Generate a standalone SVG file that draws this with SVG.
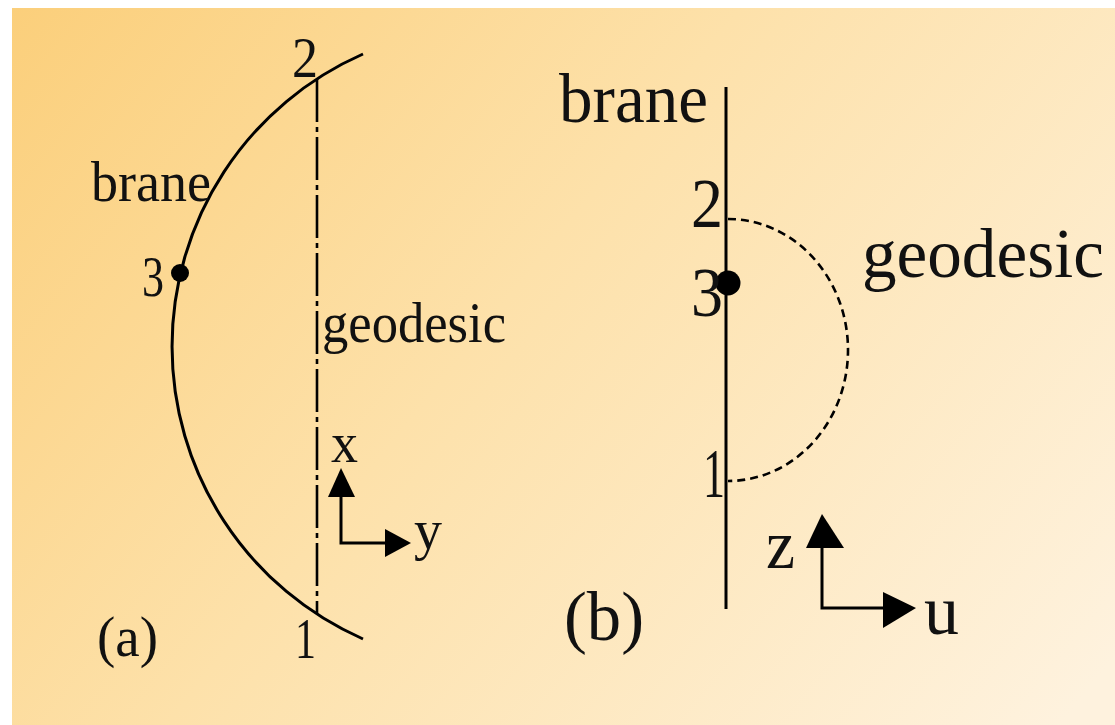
<svg xmlns="http://www.w3.org/2000/svg" width="1115" height="725" viewBox="0 0 1115 725">
  <defs>
    <linearGradient id="bg" gradientUnits="userSpaceOnUse" x1="12" y1="8" x2="1000" y2="800">
      <stop offset="0" stop-color="#FBCF7B"/>
      <stop offset="0.45" stop-color="#FDE1AA"/>
      <stop offset="1" stop-color="#FEF2DE"/>
    </linearGradient>
    <style>
      .ta { font-family: "Liberation Serif", "Times New Roman", serif; font-size: 56px; fill: #111; }
      .tb { font-family: "Liberation Serif", "Times New Roman", serif; font-size: 70px; fill: #111; }
      .line { fill: none; stroke: #000; stroke-width: 3; }
      .dashdot { fill: none; stroke: #000; stroke-width: 2.6; stroke-dasharray: 43 5 5 5; }
      .dashed { fill: none; stroke: #000; stroke-width: 2.6; stroke-dasharray: 8 5; }
      .head { fill: #000; }
    </style>
  </defs>
  <rect x="0" y="0" width="1115" height="725" fill="#FFFFFF"/>
  <rect x="12" y="8" width="1103" height="717" fill="url(#bg)"/>

  <g id="connectors">
    <!-- panel (a) brane arc -->
    <path id="brane-a" class="line" d="M 363 54 A 319.5 319.5 0 0 0 363 639"/>
    <!-- panel (a) geodesic (dash-dot) -->
    <line id="geodesic-a" class="dashdot" x1="317" y1="79" x2="317" y2="613"/>
    <!-- panel (a) axes -->
    <polyline class="line" points="341,495 341,543 388,543"/>
    <polygon class="head" points="341,468 355,497 328,497"/>
    <polygon class="head" points="411,543 385,529 385,557"/>
    <!-- panel (b) brane line -->
    <line id="brane-b" class="line" x1="726" y1="87" x2="726" y2="609"/>
    <!-- panel (b) geodesic (dashed semicircle) -->
    <path id="geodesic-b" class="dashed" d="M 728 219 A 120 131 0 0 1 728 481"/>
    <!-- panel (b) axes -->
    <polyline class="line" points="822,546 822,608 885,608"/>
    <polygon class="head" points="822,514 844,548 806,548"/>
    <polygon class="head" points="916,608 883,592 883,628"/>
  </g>

  <g id="point-3a">
    <circle cx="180" cy="273" r="9" fill="#000"/>
  </g>
  <g id="point-3b">
    <circle cx="728" cy="283" r="12.5" fill="#000"/>
  </g>

  <g id="labels-a">
    <text class="ta" x="292" y="77" textLength="26" lengthAdjust="spacingAndGlyphs">2</text>
    <text class="ta" x="91" y="201" textLength="120" lengthAdjust="spacingAndGlyphs">brane</text>
    <text class="ta" x="142" y="296" textLength="22" lengthAdjust="spacingAndGlyphs">3</text>
    <text class="ta" x="322" y="342" textLength="184" lengthAdjust="spacingAndGlyphs">geodesic</text>
    <text class="ta" x="331" y="462" textLength="27" lengthAdjust="spacingAndGlyphs">x</text>
    <text class="ta" x="414" y="549" textLength="28" lengthAdjust="spacingAndGlyphs">y</text>
    <text class="ta" x="295" y="658" textLength="21" lengthAdjust="spacingAndGlyphs">1</text>
    <text class="ta" x="97" y="656" textLength="61" lengthAdjust="spacingAndGlyphs">(a)</text>
  </g>

  <g id="labels-b">
    <text class="tb" x="559" y="122" textLength="149" lengthAdjust="spacingAndGlyphs">brane</text>
    <text class="tb" x="691" y="227" textLength="32" lengthAdjust="spacingAndGlyphs">2</text>
    <text class="tb" x="691" y="316" textLength="32" lengthAdjust="spacingAndGlyphs">3</text>
    <text class="tb" x="862" y="277" textLength="242" lengthAdjust="spacingAndGlyphs">geodesic</text>
    <text class="tb" x="703" y="497" textLength="22" lengthAdjust="spacingAndGlyphs">1</text>
    <text class="tb" x="766" y="568" textLength="29" lengthAdjust="spacingAndGlyphs">z</text>
    <text class="tb" x="924" y="634" textLength="35" lengthAdjust="spacingAndGlyphs">u</text>
    <text class="tb" x="564" y="640" textLength="80" lengthAdjust="spacingAndGlyphs">(b)</text>
  </g>
</svg>
